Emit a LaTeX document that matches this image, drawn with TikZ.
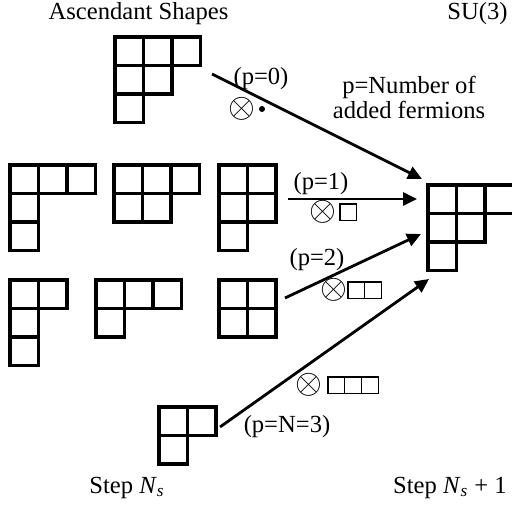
\documentclass[tikz,border=0pt]{standalone}
\usepackage{fontspec}
\setmainfont{Liberation Serif}
\usetikzlibrary{arrows.meta}

% Young diagram: top-left corner (#1,#2), row lengths #3
\newcommand{\youngdiag}[3]{%
  \begin{scope}[shift={(#1,#2)}]
    \foreach \rowlen [count=\rowi from 0] in {#3}
      \foreach \coli in {1,...,\rowlen}
        \draw[cell] ({(\coli-1)*28.5},{\rowi*28.5}) rectangle ++(28.5,28.5);
  \end{scope}}
% row of #3 small boxes, top-left corner (#1,#2)
\newcommand{\boxrow}[3]{%
  \foreach \coli in {1,...,#3}
    \draw[smallcell] ({#1+(\coli-1)*16.8},#2) rectangle ++(16.8,16.8);}

\begin{document}
\begin{tikzpicture}[x=0.5pt,y=-0.5pt,
    cell/.style={line width=1.6pt},
    smallcell/.style={line width=0.65pt},
    arr/.style={line width=1.4pt,-{Triangle[length=7pt,width=6.5pt]}},
    lbl/.style={font=\fontsize{12.3}{12.5}\selectfont,inner sep=0pt},
    otim/.style={font=\fontsize{17}{17}\selectfont,inner sep=0pt}]
  \useasboundingbox (0,0) rectangle (511,514);
  % Headings
  \node[lbl,anchor=base] (title) at (138.5,19) {Ascendant Shapes};
  \node[lbl,anchor=base] (group) at (477.5,19) {SU(3)};
  \node[lbl,align=center] (legend) at (409,97) {p=Number of\\added fermions};
  % Shapes at step N_s
  \youngdiag{115}{37}{3,2,1}
  \youngdiag{10}{165}{3,1,1}
  \youngdiag{114}{165}{3,2}
  \youngdiag{219}{165}{2,2,1}
  \youngdiag{10}{280}{2,1,1}
  \youngdiag{96}{280}{3,1}
  \youngdiag{219}{280}{2,2}
  \youngdiag{159}{407}{2,1}
  % Shape at step N_s + 1
  \youngdiag{428}{185}{3,2,1}
  % Arrows
  \coordinate (s0) at (212,74);  \coordinate (t0) at (422,179);
  \coordinate (s1) at (288,199); \coordinate (t1) at (417,199);
  \coordinate (s2) at (285,298); \coordinate (t2) at (421,234);
  \coordinate (s3) at (220,427); \coordinate (t3) at (429,279);
  \draw[arr] (s0) -- (t0);
  \draw[arr] (s1) -- (t1);
  \draw[arr] (s2) -- (t2);
  \draw[arr] (s3) -- (t3);
  % Labels on the arrows
  \node[lbl,anchor=base] (p0) at (261,84) {(p=0)};
  \node[otim] (x0) at (241.5,109) {$\otimes$};
  \fill (262,109) circle (1.5pt);
  \node[lbl,anchor=base] (p1) at (321,189) {(p=1)};
  \node[otim] (x1) at (322.5,212) {$\otimes$};
  \boxrow{340}{204}{1}
  \node[lbl,anchor=base] (p2) at (317,265) {(p=2)};
  \node[otim] (x2) at (333.5,290) {$\otimes$};
  \boxrow{348}{282}{2}
  \node[otim] (x3) at (308.5,385) {$\otimes$};
  \boxrow{328}{377}{3}
  \node[lbl,anchor=base] (p3) at (287,432) {(p=N=3)};
  % Steps
  \node[lbl,anchor=base] (stepa) at (127,493) {Step \textit{N}\textsubscript{\textit{s}}};
  \node[lbl,anchor=base] (stepb) at (450,493) {Step \textit{N}\textsubscript{\textit{s}} + 1};
\end{tikzpicture}
\end{document}
